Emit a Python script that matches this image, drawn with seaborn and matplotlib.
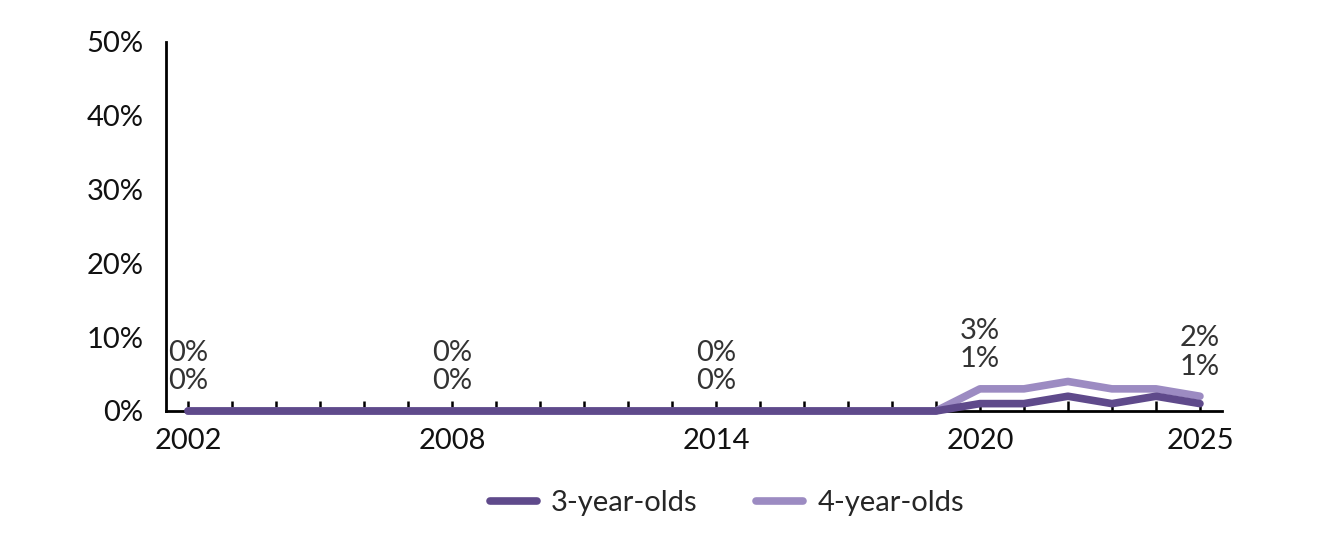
import numpy as np
import pandas as pd
import matplotlib
matplotlib.use("Agg")
import matplotlib.pyplot as plt
from matplotlib.colors import same_color
import seaborn as sns

years = list(range(2002, 2026))
three_year_olds = [0] * 18 + [1, 1, 2, 1, 2, 1]
four_year_olds = [0] * 18 + [3, 3, 4, 3, 3, 2]
label_years = [2002, 2008, 2014, 2020, 2025]
series_names = ["3-year-olds", "4-year-olds"]
colors = {"3-year-olds": "#5f4a8b", "4-year-olds": "#9c8bc2"}

df = pd.DataFrame({
    "year": years * 2,
    "value": three_year_olds + four_year_olds,
    "group": [series_names[0]] * len(years) + [series_names[1]] * len(years),
})

sns.set_theme(style="white")
plt.rcParams["font.family"] = ["Lato", "DejaVu Sans"]

fig = plt.figure(figsize=(13.34, 5.41), dpi=100)
ax = fig.add_axes([0.1244, 0.2403, 0.7916, 0.6821])

sns.lineplot(data=df, x="year", y="value", hue="group", palette=colors,
             hue_order=series_names, linewidth=5.5, ax=ax, legend=True)

# darker 3-year-olds line sits on top where they overlap; don't clip at 0
for line in ax.lines:
    line.set_clip_on(False)
    if same_color(line.get_color(), colors["3-year-olds"]):
        line.set_zorder(3)

ax.set_xlim(2001.5, 2025.5)
ax.set_ylim(0, 50)
ax.set_yticks(range(0, 51, 10))
ax.set_yticklabels([f"{v}%" for v in range(0, 51, 10)], fontsize=21, color="#111111")
ax.set_xticks(years)
ax.set_xticklabels([str(y) if y in label_years else "" for y in years],
                   fontsize=21, color="#111111")
# the white style turns bottom ticks off, switch them back on
ax.tick_params(axis="x", bottom=True, direction="in", length=7, width=1.8,
               color="black", pad=12)
ax.tick_params(axis="y", left=False, length=0, pad=16)
ax.set_xlabel("")
ax.set_ylabel("")

for side in ["top", "right"]:
    ax.spines[side].set_visible(False)
for side in ["left", "bottom"]:
    ax.spines[side].set_color("black")
    ax.spines[side].set_linewidth(2)

for y in label_years:
    i = years.index(y)
    top = max(three_year_olds[i], four_year_olds[i])
    ax.annotate(f"{four_year_olds[i]}%\n{three_year_olds[i]}%", xy=(y, top),
                xytext=(0, 12), textcoords="offset points", ha="center",
                va="bottom", fontsize=21, color="#333333", linespacing=1.1)

handles, labels = ax.get_legend_handles_labels()
ax.legend_.remove()
for h in handles:
    h.set_solid_capstyle("round")
fig.legend(handles, labels, loc="center", bbox_to_anchor=(0.545, 0.07), ncol=2,
           frameon=False, fontsize=21, handlelength=1.6, columnspacing=2.0,
           handletextpad=0.5)

fig.savefig("out.png", dpi=100)
